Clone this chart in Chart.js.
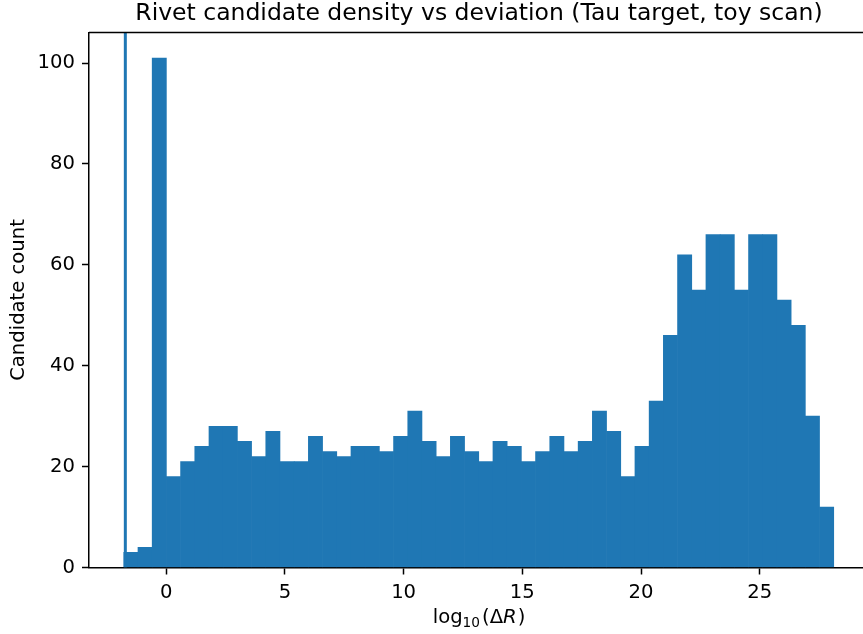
<!DOCTYPE html>
<html>
<head>
<meta charset="utf-8">
<style>
  html, body { margin: 0; padding: 0; overflow: hidden; background: #fff; }
  canvas { display: block; }
</style>
<script src="https://cdn.jsdelivr.net/npm/chart.js@4.4.1/dist/chart.umd.min.js"></script>
</head>
<body>
<canvas id="chart" width="880" height="634"></canvas>
<script>
// Histogram binning (50 equal-width bins)
const binLow = -1.785;
const binWidth = 0.598;
const counts = [3, 4, 101, 18, 21, 24, 28, 28, 25, 22,
                27, 21, 21, 26, 23, 22, 24, 24, 23, 26,
                31, 25, 22, 26, 23, 21, 25, 24, 21, 23,
                26, 23, 25, 31, 27, 18, 24, 33, 46, 62,
                55, 66, 66, 55, 66, 66, 53, 48, 30, 12];
const xTicks = [0, 5, 10, 15, 20, 25];
const yTicks = [0, 20, 40, 60, 80, 100];
const markerX = -1.72;   // reference line position
const xRange = [-3.25, 29.6];
const yRange = [0, 106.05];

const blue = '#1f77b4';
const fontFamily = '"DejaVu Sans", sans-serif';
const binCenters = counts.map((_, i) => binLow + (i + 0.5) * binWidth);
const barPoints = counts.map((c, i) => ({ x: binCenters[i], y: c }));
const markerPoints = [{ x: markerX, y: yRange[0] }, { x: markerX, y: yRange[1] }];

Chart.defaults.font.family = fontFamily;
Chart.defaults.color = '#000';

// top and right spines of the axes box
const frame = {
  id: 'frame',
  afterDraw(chart) {
    const { ctx, chartArea: a } = chart;
    ctx.save();
    ctx.strokeStyle = '#000';
    ctx.lineWidth = 1.5;
    ctx.beginPath();
    ctx.moveTo(a.left, a.top);
    ctx.lineTo(a.right, a.top);
    ctx.lineTo(a.right, a.bottom);
    ctx.stroke();
    ctx.restore();
  }
};

// x-axis label with a subscript and an italic R: log_10(ΔR)
const xLabel = {
  id: 'xLabel',
  afterDraw(chart) {
    const { ctx, chartArea: a } = chart;
    const size = 19.6, sub = 13.7;
    const parts = [
      { t: 'log', f: `${size}px ${fontFamily}`, dy: 0 },
      { t: '10', f: `${sub}px ${fontFamily}`, dy: 4 },
      { t: '(Δ', f: `${size}px ${fontFamily}`, dy: 0, pre: 2 },
      { t: 'R', f: `italic ${size}px ${fontFamily}`, dy: 0 },
      { t: ')', f: `${size}px ${fontFamily}`, dy: 0, pre: 1 }
    ];
    ctx.save();
    ctx.fillStyle = '#000';
    ctx.textBaseline = 'alphabetic';
    ctx.textAlign = 'left';
    let total = 0;
    parts.forEach(p => { ctx.font = p.f; p.w = ctx.measureText(p.t).width; total += p.w + (p.pre || 0); });
    let x = (a.left + a.right) / 2 - total / 2;
    const baseY = 623;
    parts.forEach(p => {
      x += p.pre || 0;
      ctx.font = p.f;
      ctx.fillText(p.t, x, baseY + p.dy);
      x += p.w;
    });
    ctx.restore();
  }
};

new Chart(document.getElementById('chart'), {
  type: 'bar',
  data: {
    datasets: [
      {
        type: 'line',
        data: markerPoints,
        borderColor: blue,
        borderWidth: 3,
        pointRadius: 0,
        order: 0
      },
      {
        data: barPoints,
        backgroundColor: blue,
        borderWidth: 0,
        barPercentage: 1.0,
        categoryPercentage: 1.0,
        order: 1
      }
    ]
  },
  options: {
    responsive: false,
    animation: false,
    events: [],
    layout: { padding: { left: 0, right: 11, top: 0, bottom: 0 } },
    plugins: {
      legend: { display: false },
      tooltip: { enabled: false },
      title: {
        display: true,
        fullSize: false,
        text: 'Rivet candidate density vs deviation (Tau target, toy scan)',
        font: { size: 23.5, weight: 'normal', lineHeight: 1.2 },
        color: '#000',
        padding: { top: 0, bottom: 4.3 }
      }
    },
    scales: {
      x: {
        type: 'linear',
        min: xRange[0],
        max: xRange[1],
        offset: false,
        z: 1,
        afterBuildTicks: s => { s.ticks = xTicks.map(v => ({ value: v })); },
        afterFit: s => { s.height = 66.5; },
        grid: { display: true, drawOnChartArea: false, drawTicks: true, tickLength: 7, tickWidth: 1.5, color: '#000', offset: false },
        border: { display: true, color: '#000', width: 1.5 },
        ticks: { font: { size: 19.6 }, padding: 7, maxRotation: 0, autoSkip: false },
        title: { display: false, text: 'log₁₀(ΔR)' }
      },
      y: {
        type: 'linear',
        min: yRange[0],
        max: yRange[1],
        z: 1,
        afterBuildTicks: s => { s.ticks = yTicks.map(v => ({ value: v })); },
        afterFit: s => { s.width = 89; },
        grid: { display: true, drawOnChartArea: false, drawTicks: true, tickLength: 7, tickWidth: 1.5, color: '#000' },
        border: { display: true, color: '#000', width: 1.5 },
        ticks: { font: { size: 19.6 }, padding: 7 },
        title: {
          display: true,
          text: 'Candidate count',
          font: { size: 19.6, lineHeight: 1.2 },
          padding: { top: 7, bottom: 0 }
        }
      }
    }
  },
  plugins: [frame, xLabel]
});
</script>
</body>
</html>
